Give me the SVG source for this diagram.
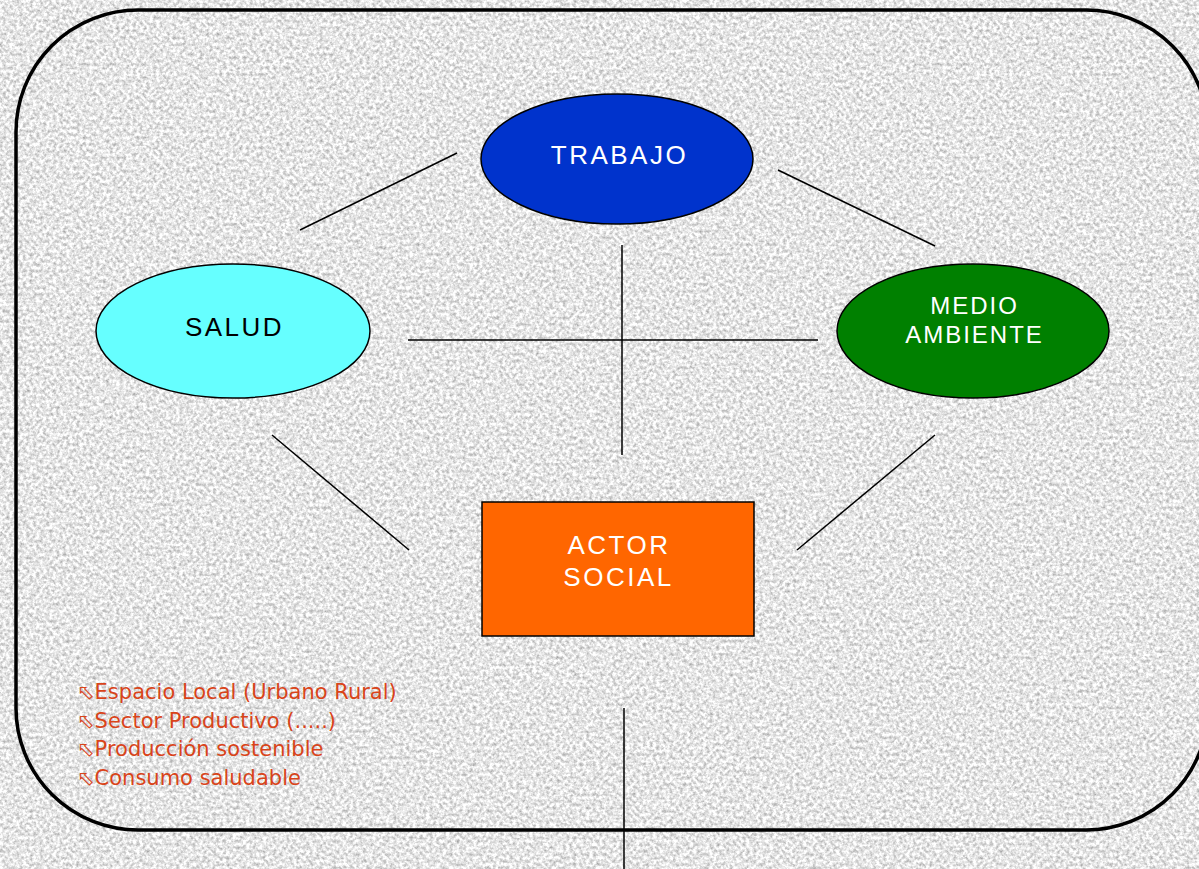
<svg xmlns="http://www.w3.org/2000/svg" width="1199" height="869" viewBox="0 0 1199 869">
  <defs>
    <filter id="granite" x="0" y="0" width="100%" height="100%" color-interpolation-filters="sRGB">
      <feTurbulence type="fractalNoise" baseFrequency="0.3" numOctaves="4" seed="7" result="n"/>
      <feColorMatrix type="matrix" values="0.6 0 0 0 0.6  0.6 0 0 0 0.6  0.6 0 0 0 0.6  0 0 0 0 1"/>
    </filter>
    <style>
      .frame { fill: none; stroke: #000; stroke-width: 3.5; }
      .conn line { stroke: #000; stroke-width: 1.5; }
      .node { stroke: #000; stroke-width: 1.5; }
      .lbl { font-family: "Liberation Sans", Arial, sans-serif; font-size: 26px; letter-spacing: 2.5px; text-anchor: middle; }
      .small { font-size: 24px; letter-spacing: 2px; }
      .note { font-family: "DejaVu Sans", Tahoma, sans-serif; font-size: 21px; fill: #d9441a; }
    </style>
  </defs>

  <rect x="0" y="0" width="1199" height="869" fill="#e4e4e4" filter="url(#granite)"/>

  <rect class="frame" x="16" y="10" width="1192" height="820" rx="122" ry="122"/>

  <g id="connectors" class="conn">
    <line x1="300" y1="230" x2="457" y2="153"/>
    <line x1="778" y1="170" x2="935" y2="246"/>
    <line x1="622" y1="245" x2="622" y2="455"/>
    <line x1="408" y1="340" x2="818" y2="340"/>
    <line x1="272" y1="435" x2="409" y2="550"/>
    <line x1="935" y1="435" x2="797" y2="550"/>
    <line x1="624" y1="708" x2="624" y2="869"/>
  </g>

  <g id="trabajo">
    <ellipse class="node" cx="617" cy="159" rx="136" ry="65" fill="#0033cc"/>
    <text class="lbl" x="619.5" y="164" fill="#ffffff">TRABAJO</text>
  </g>

  <g id="salud">
    <ellipse class="node" cx="233" cy="331" rx="137" ry="67" fill="#66ffff"/>
    <text class="lbl" x="234.5" y="336" fill="#000000">SALUD</text>
  </g>

  <g id="medio-ambiente">
    <ellipse class="node" cx="973" cy="331" rx="136" ry="67" fill="#008000"/>
    <text class="lbl small" x="974.5" y="314" fill="#ffffff">MEDIO</text>
    <text class="lbl small" x="974.5" y="343" fill="#ffffff">AMBIENTE</text>
  </g>

  <g id="actor-social">
    <rect class="node" x="482" y="502" width="272" height="134" fill="#ff6600"/>
    <text class="lbl" x="619" y="554" fill="#ffffff">ACTOR</text>
    <text class="lbl" x="618.5" y="586" fill="#ffffff">SOCIAL</text>
  </g>

  <g id="notes" class="note">
    <text x="77" y="699">⬁Espacio Local (Urbano Rural)</text>
    <text x="77" y="728">⬁Sector Productivo (.....)</text>
    <text x="77" y="756">⬁Producción sostenible</text>
    <text x="77" y="785">⬁Consumo saludable</text>
  </g>
</svg>
